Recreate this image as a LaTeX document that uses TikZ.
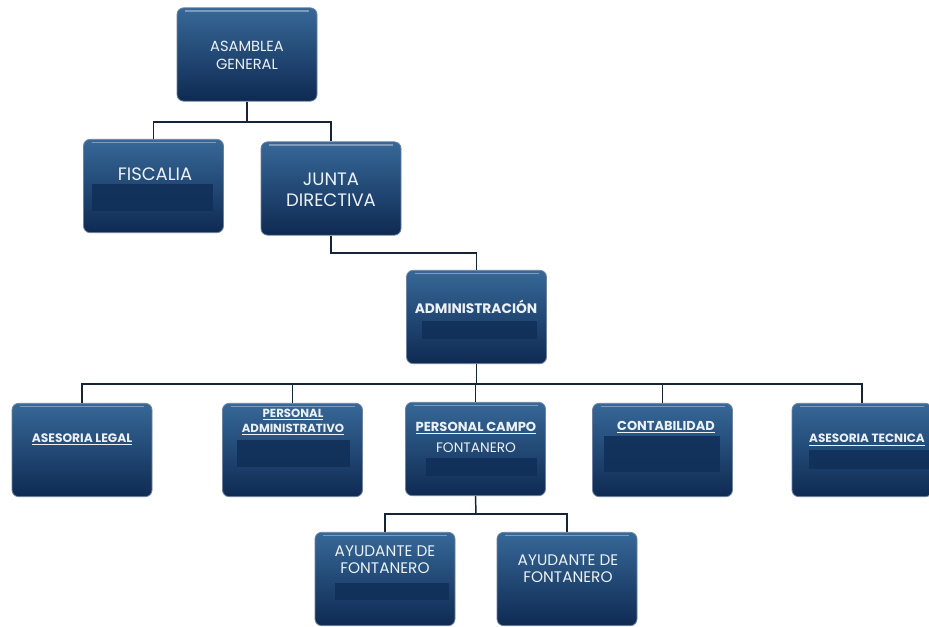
\documentclass[tikz,border=0pt]{standalone}
\usepackage{fontspec}
\setmainfont{Poppins}
\definecolor{boxtop}{RGB}{55,104,152}
\definecolor{boxbot}{RGB}{14,42,82}
\definecolor{boxedge}{RGB}{110,130,160}
\definecolor{lineC}{RGB}{22,36,58}
\definecolor{txt}{RGB}{236,241,247}
\definecolor{barC}{RGB}{16,46,88}
\tikzset{
  orgbox/.style={rectangle, rounded corners=5pt, minimum width=105pt, minimum height=70pt,
    top color=boxtop, bottom color=boxbot, draw=boxedge, line width=0.6pt, inner sep=0pt,
    path picture={\draw[white, opacity=0.35, line width=1.2pt]
      ([xshift=6pt,yshift=-2.5pt]path picture bounding box.north west) --
      ([xshift=-6pt,yshift=-2.5pt]path picture bounding box.north east);}},
  lbl/.style={text=txt, align=center, inner sep=0pt},
  conn/.style={draw=lineC, line width=1.1pt},
  redact/.style={fill=barC, opacity=0.85}
}
\newcommand{\ulb}[1]{\underline{\textbf{#1}}}
\begin{document}
\begin{tikzpicture}[x=0.75pt,y=-0.75pt]
\useasboundingbox (0,0) rectangle (929,626);
\fill[white] (0,0) rectangle (929,626);
% boxes
\node[orgbox] (asamblea) at (247,54.5) {};
\node[orgbox] (fiscalia) at (153.5,186) {};
\node[orgbox] (junta) at (331,188.5) {};
\node[orgbox] (admin) at (476.5,317) {};
\node[orgbox] (legal) at (82,450) {};
\node[orgbox] (padm) at (292.5,450) {};
\node[orgbox] (campo) at (475.5,449) {};
\node[orgbox] (contab) at (662.5,450) {};
\node[orgbox] (tecnica) at (862,450) {};
\node[orgbox] (ayud1) at (385,579) {};
\node[orgbox] (ayud2) at (567,579) {};
% redacted bars
\fill[redact] (92,184) rectangle (213,211);
\fill[redact] (422,321) rectangle (537,339);
\fill[redact] (237,440) rectangle (350,467);
\fill[redact] (426,458) rectangle (537,476);
\fill[redact] (604,436) rectangle (720,472);
\fill[redact] (809,450) rectangle (929,469);
\fill[redact] (335,583) rectangle (449,600);
% connectors
\coordinate (j1) at (247,122);
\coordinate (j2) at (400,253);
\coordinate (j3) at (476.5,384);
\coordinate (j4) at (476,514);
\draw[conn] (asamblea.south) -- (j1);
\draw[conn] (fiscalia.north) |- (j1) -| (junta.north);
\draw[conn] (junta.south) |- (j2) -| (admin.north);
\draw[conn] (admin.south) -- (j3);
\draw[conn] (legal.north) |- (j3) -| (tecnica.north);
\draw[conn] (padm.north) -- (padm.north |- j3);
\draw[conn] (campo.north) -- (campo.north |- j3);
\draw[conn] (contab.north) -- (contab.north |- j3);
\draw[conn] (campo.south) -- (j4);
\draw[conn] (ayud1.north) |- (j4) -| (ayud2.north);
% labels
\node[lbl, font=\fontsize{11}{13.5}\selectfont] (tasamblea) at (247,55) {ASAMBLEA\\GENERAL};
\node[lbl, font=\fontsize{13.5}{16}\selectfont] (tfiscalia) at (155,174) {FISCALIA};
\node[lbl, font=\fontsize{13.5}{16}\selectfont] (tjunta) at (331,190) {JUNTA\\DIRECTIVA};
\node[lbl, font=\fontsize{10.3}{12}\selectfont] (tadmin) at (476,307) {\textbf{ADMINISTRACIÓN}};
\node[lbl, font=\fontsize{9.2}{11}\selectfont] (tlegal) at (82,439) {\ulb{ASESORIA LEGAL}};
\node[lbl, font=\fontsize{8.8}{11.25}\selectfont] (tpadm) at (293,422) {\ulb{PERSONAL}\\\ulb{ADMINISTRATIVO}};
\node[lbl, font=\fontsize{9.8}{11}\selectfont] (tcampo) at (476,428) {\ulb{PERSONAL CAMPO}};
\node[lbl, font=\fontsize{10.3}{11}\selectfont] (tfont) at (476,448) {FONTANERO};
\node[lbl, font=\fontsize{9.7}{11}\selectfont] (tcontab) at (666,427) {\ulb{CONTABILIDAD}};
\node[lbl, font=\fontsize{9}{11}\selectfont] (ttecnica) at (867,440) {\ulb{ASESORIA TECNICA}};
\node[lbl, font=\fontsize{11.5}{13}\selectfont] (tayud1) at (385,560) {AYUDANTE DE\\FONTANERO};
\node[lbl, font=\fontsize{11.5}{13}\selectfont] (tayud2) at (568,569) {AYUDANTE DE\\FONTANERO};
\end{tikzpicture}
\end{document}
